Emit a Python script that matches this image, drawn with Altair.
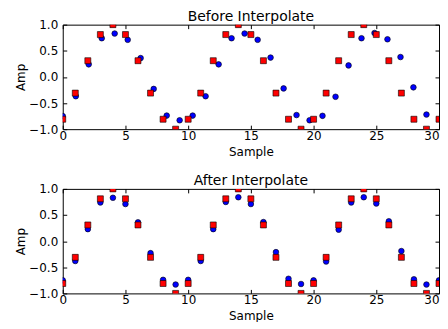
import altair as alt
import pandas as pd

# Red squares: integer samples 0..30
red_x = [0, 1, 2, 3, 4, 5, 6, 7, 8, 9, 10, 11, 12, 13, 14, 15, 16, 17, 18, 19, 20,
         21, 22, 23, 24, 25, 26, 27, 28, 29, 30]
red_y = [-0.81, -0.31, 0.31, 0.81, 1.0, 0.81, 0.31, -0.31, -0.81, -1.0,
         -0.81, -0.31, 0.31, 0.81, 1.0, 0.81, 0.31, -0.31, -0.81, -1.0,
         -0.81, -0.31, 0.31, 0.81, 1.0, 0.81, 0.31, -0.31, -0.81, -1.0,
         -0.81]

# Blue circles before interpolation (stretched sample positions)
before_x = [0.0, 1.04, 2.07, 3.11, 4.14, 5.18, 6.21, 7.25, 8.29, 9.32, 10.36, 11.39,
            12.43, 13.46, 14.5, 15.54, 16.57, 17.61, 18.64, 19.68, 20.71, 21.75,
            22.79, 23.82, 24.86, 25.89, 26.93, 27.96, 29.0]
before_y = [-0.75, -0.37, 0.24, 0.74, 0.83, 0.71, 0.36, -0.23, -0.74, -0.83,
            -0.74, -0.37, 0.24, 0.74, 0.83, 0.71, 0.37, -0.22, -0.73, -0.83,
            -0.745, -0.38, 0.22, 0.74, 0.84, 0.72, 0.38, -0.2, -0.72]

# Blue circles after interpolation (integer sample positions)
after_x = [0, 1, 2, 3, 4, 5, 6, 7, 8, 9, 10, 11, 12, 13, 14, 15, 16, 17, 18, 19, 20,
           21, 22, 23, 24, 25, 26, 27, 28, 29, 30]
after_y = [-0.75, -0.38, 0.23, 0.74, 0.83, 0.71, 0.36, -0.23, -0.74, -0.83,
           -0.74, -0.38, 0.23, 0.75, 0.84, 0.71, 0.365, -0.21, -0.72, -0.82,
           -0.75, -0.39, 0.22, 0.74, 0.84, 0.72, 0.38, -0.19, -0.73, -0.83,
           -0.75]

x_ticks = [0, 5, 10, 15, 20, 25, 30]
y_ticks = [-1.0, -0.5, 0.0, 0.5, 1.0]

FONT = "DejaVu Sans"
W, H = 378, 105


def panel(title, bx, by):
    blue_df = pd.DataFrame({"x": bx, "y": by})
    red_df = pd.DataFrame({"x": red_x, "y": red_y})
    xs = alt.Scale(domain=[0, 30], nice=False, zero=False)
    ys = alt.Scale(domain=[-1, 1], nice=False, zero=False)

    lab = dict(labelFont=FONT, labelFontSize=12, labelColor="black",
               titleFont=FONT, titleFontSize=12, titleFontWeight="normal",
               titleColor="black", grid=False, labelFlush=False,
               labelOverlap=False, minExtent=0)
    tick_only = dict(labels=False, domain=False, grid=False, ticks=True,
                     tickSize=4, tickColor="black", tickWidth=1, offset=-4,
                     title=None, minExtent=0, maxExtent=0)

    blue = alt.Chart(blue_df).mark_point(
        shape="circle", filled=True, fill="#0000ff", stroke="black",
        strokeWidth=0.6, size=32, opacity=1, clip=True
    ).encode(
        x=alt.X("x:Q", scale=xs, axis=alt.Axis(
            orient="bottom", values=x_ticks, ticks=False, domain=False,
            labelPadding=1, title="Sample", titlePadding=5,
            labelAlign={"condition": {"test": "datum.value == 30", "value": "right"},
                        "value": "center"},
            **lab)),
        y=alt.Y("y:Q", scale=ys, axis=alt.Axis(
            orient="left", values=y_ticks, ticks=False, domain=False,
            format=".1f", labelPadding=5, title="Amp", titlePadding=1, **lab)),
    )

    red = alt.Chart(red_df).mark_point(
        shape="square", filled=True, fill="#ff0000", stroke="black",
        strokeWidth=0.6, size=36, opacity=1, clip=True
    ).encode(
        x=alt.X("x:Q", scale=xs, axis=alt.Axis(orient="bottom", values=x_ticks, **tick_only)),
        y=alt.Y("y:Q", scale=ys, axis=alt.Axis(orient="left", values=y_ticks, **tick_only)),
    )

    ghost = alt.Chart(red_df).mark_point(opacity=0, clip=True).encode(
        x=alt.X("x:Q", scale=xs, axis=alt.Axis(orient="top", values=x_ticks, **tick_only)),
        y=alt.Y("y:Q", scale=ys, axis=alt.Axis(orient="right", values=y_ticks, **tick_only)),
    )

    return alt.layer(blue, red, ghost).resolve_axis(
        x="independent", y="independent"
    ).properties(
        width=W, height=H,
        title=alt.TitleParams(title, font=FONT, fontSize=14, fontWeight="normal",
                              color="black", anchor="middle", offset=-5),
    )


chart = alt.vconcat(
    panel("Before Interpolate", before_x, before_y),
    panel("After Interpolate", after_x, after_y),
    spacing=15,
).properties(
    padding={"left": 6, "top": 0, "right": 0, "bottom": -1},
    background="white",
).configure_view(
    stroke="black", strokeWidth=1,
)

chart.save("out.html", embed_options={"renderer": "svg", "actions": False})
